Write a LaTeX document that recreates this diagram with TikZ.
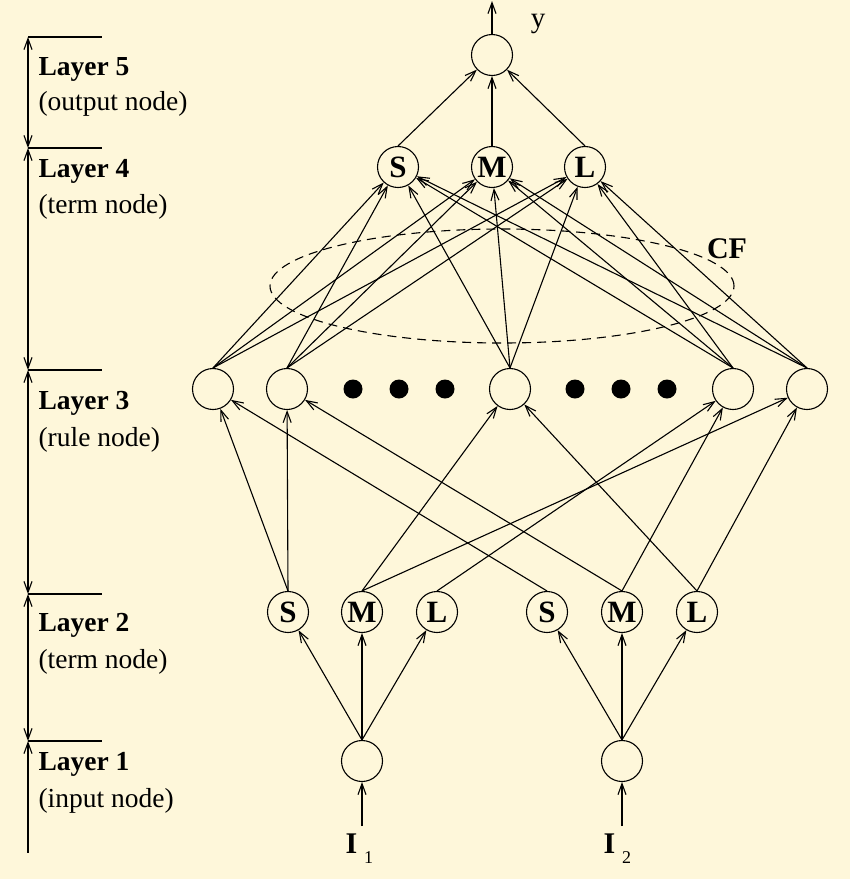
\documentclass[tikz,border=0pt]{standalone}
\usepackage{fontspec}
\setmainfont{Liberation Serif}
\usepackage{tikz}
\usetikzlibrary{arrows.meta, shapes.geometric}
\definecolor{bgyellow}{RGB}{254,247,218}
\tikzset{>={Straight Barb[length=11pt,width=8pt]}}
\tikzset{
	unit/.style={circle, draw, minimum size=41pt, inner sep=0pt, font=\fontsize{31}{31}\selectfont\bfseries},
	bigdot/.style={circle, fill, minimum size=19pt, inner sep=0pt},
	layertext/.style={anchor=base west, inner sep=0pt, font=\fontsize{27.5}{30}\selectfont},
	inputtext/.style={anchor=base west, inner sep=0pt, font=\fontsize{30}{30}\selectfont}
}

\begin{document}
\begin{tikzpicture}[x=1pt, y=-1pt, line width=1.1pt]
		\useasboundingbox (0, 0) rectangle (850, 879);
		\fill[bgyellow] (0, 0) rectangle (850, 879);

		% layer scale on the left
		\coordinate (ax5) at (28, 37);
		\coordinate (ax4) at (28, 148);
		\coordinate (ax3) at (28, 370);
		\coordinate (ax2) at (28, 594);
		\coordinate (ax1) at (28, 741);
		\coordinate (axb) at (28, 853);
		\draw[<->] (ax5) -- (ax4);
		\draw[<->] (ax4) -- (ax3);
		\draw[<->] (ax3) -- (ax2);
		\draw[<->] (ax2) -- (ax1);
		\draw[<-] (ax1) -- (axb);
		\draw (ax5) -- ++(74, 0) (ax4) -- ++(74, 0) (ax3) -- ++(74, 0) (ax2) -- ++(74, 0) (ax1) -- ++(74, 0);

		\begin{scope}[every node/.append style={layertext}]
			\node (lay5) at (38, 75) {\bfseries Layer 5};
			\node (lay5b) at (38, 110) {(output node)};
			\node (lay4) at (38, 177) {\bfseries Layer 4};
			\node (lay4b) at (38, 213) {(term node)};
			\node (lay3) at (38, 409) {\bfseries Layer 3};
			\node (lay3b) at (38, 446) {(rule node)};
			\node (lay2) at (38, 631) {\bfseries Layer 2};
			\node (lay2b) at (38, 668) {(term node)};
			\node (lay1) at (38, 770) {\bfseries Layer 1};
			\node (lay1b) at (38, 807) {(input node)};
		\end{scope}

		% network
		\node[ellipse, draw, dash pattern=on 9pt off 6pt, minimum width=464pt, minimum height=114pt] (cfring) at (502, 286) {};
		\node[font=\fontsize{30}{30}\selectfont\bfseries] (cf) at (727, 249) {CF};

		\node[unit] (out) at (492, 55) {};
		\node[unit] (s4) at (398, 167) {S};
		\node[unit] (m4) at (492, 167) {M};
		\node[unit] (l4) at (585, 167) {L};

		\node[unit] (r1) at (213, 389) {};
		\node[unit] (r2) at (287, 389) {};
		\node[unit] (rm) at (510, 389) {};
		\node[unit] (r4) at (733, 389) {};
		\node[unit] (r5) at (807, 389) {};
		\node[bigdot] (d1) at (353, 389) {};
		\node[bigdot] (d2) at (399, 389) {};
		\node[bigdot] (d3) at (445, 389) {};
		\node[bigdot] (d4) at (575, 389) {};
		\node[bigdot] (d5) at (621, 389) {};
		\node[bigdot] (d6) at (667, 389) {};

		\node[unit] (s21) at (288, 612) {S};
		\node[unit] (m21) at (362, 612) {M};
		\node[unit] (l21) at (437, 612) {L};
		\node[unit] (s22) at (547, 612) {S};
		\node[unit] (m22) at (622, 612) {M};
		\node[unit] (l22) at (697, 612) {L};

		\node[unit] (in1) at (362, 761) {};
		\node[unit] (in2) at (622, 761) {};

		\coordinate (src1) at (362, 826);
		\coordinate (src2) at (622, 826);
		\coordinate (ytip) at (492, 1);
		\node[inputtext] (x1) at (345, 853) {\bfseries I\hspace{7pt}\raisebox{-10pt}{\mdseries\fontsize{18}{18}\selectfont 1}};
		\node[inputtext] (x2) at (603, 853) {\bfseries I\hspace{7pt}\raisebox{-10pt}{\mdseries\fontsize{18}{18}\selectfont 2}};
		\node[anchor=base, inner sep=0pt, font=\fontsize{29}{29}\selectfont] (ylab) at (538, 27) {y};

		% layer 1
		\draw[->] (src1) -- (in1);
		\draw[->] (src2) -- (in2);
		\draw[->] (in1.north) -- (s21);
		\draw[->] (in1.north) -- (m21);
		\draw[->] (in1.north) -- (l21);
		\draw[->] (in2.north) -- (s22);
		\draw[->] (in2.north) -- (m22);
		\draw[->] (in2.north) -- (l22);

		% layer 2
		\draw[->] (s21.north) -- (r1);
		\draw[->] (s21.north) -- (r2);
		\draw[->] (m21.north) -- (rm);
		\draw[->] (m21.north) -- (r5);
		\draw[->] (l21.north) -- (r4);
		\draw[->] (s22.north) -- (r1);
		\draw[->] (m22.north) -- (r2);
		\draw[->] (m22.north) -- (r4);
		\draw[->] (l22.north) -- (rm);
		\draw[->] (l22.north) -- (r5);

		% layer 3
		\draw[->] (r1.north) -- (s4);
		\draw[->] (r1.north) -- (m4);
		\draw[->] (r1.north) -- (l4);
		\draw[->] (r2.north) -- (s4);
		\draw[->] (r2.north) -- (m4);
		\draw[->] (r2.north) -- (l4);
		\draw[->] (rm.north) -- (s4);
		\draw[->] (rm.north) -- (m4);
		\draw[->] (rm.north) -- (l4);
		\draw[->] (r4.north) -- (s4);
		\draw[->] (r4.north) -- (m4);
		\draw[->] (r4.north) -- (l4);
		\draw[->] (r5.north) -- (s4);
		\draw[->] (r5.north) -- (m4);
		\draw[->] (r5.north) -- (l4);

		% layer 4
		\draw[->] (s4.north) -- (out);
		\draw[->] (m4.north) -- (out);
		\draw[->] (l4.north) -- (out);
		\draw[->] (out) -- (ytip);
	\end{tikzpicture}
\end{document}
